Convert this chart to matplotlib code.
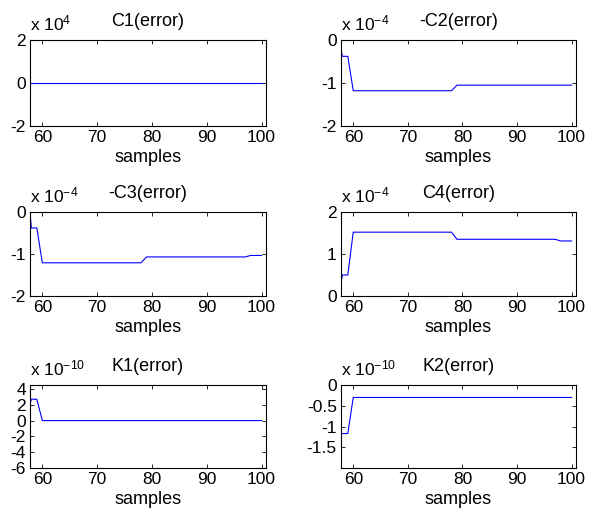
import matplotlib
matplotlib.use("Agg")
import matplotlib.pyplot as plt

# =========================================================
# DONNEES (points de rupture des courbes, echantillons entiers)
# =========================================================

c1_samples = [57, 100]
c1_values = [0.0, 0.0]                     # x 1e4

c2_samples = [57, 58, 59, 60, 78, 79, 100]
c2_values = [0.32, -0.38, -0.38, -1.18, -1.18, -1.05, -1.05]   # x 1e-4

c3_samples = [57, 58, 59, 60, 78, 79, 97, 98, 100]
c3_values = [1.14, -0.38, -0.38, -1.21, -1.21, -1.07, -1.07, -1.035, -1.035]

c4_samples = [57, 58, 59, 60, 78, 79, 97, 98, 100]
c4_values = [-0.33, 0.5, 0.5, 1.52, 1.52, 1.35, 1.35, 1.31, 1.31]

k1_samples = [57, 58, 59, 60, 100]
k1_values = [0.2, 2.7, 2.7, 0.0, 0.0]      # x 1e-10

k2_samples = [57, 59, 60, 100]
k2_values = [-1.17, -1.17, -0.3, -0.3]     # x 1e-10

x_ticks = [60, 70, 80, 90, 100]

# =========================================================
# STYLE
# =========================================================

plt.rcParams["font.family"] = ["Liberation Sans", "DejaVu Sans"]
plt.rcParams["mathtext.default"] = "regular"
plt.rcParams["axes.unicode_minus"] = False
plt.rcParams["font.size"] = 12

panels = [
    # titre, exposant, x, y, ylim, yticks, yticklabels, position
    ("C1(error)", "4", c1_samples, c1_values, (-2, 2), [-2, 0, 2], None,
     [0.0503, 0.7577, 0.396, 0.1654]),
    ("-C2(error)", "-4", c2_samples, c2_values, (-2, 0), [-2, -1, 0], None,
     [0.5721, 0.7577, 0.3943, 0.1654]),
    ("-C3(error)", "-4", c3_samples, c3_values, (-2, 0), [-2, -1, 0], None,
     [0.0503, 0.4308, 0.396, 0.1615]),
    ("C4(error)", "-4", c4_samples, c4_values, (0, 2), [0, 1, 2], None,
     [0.5721, 0.4308, 0.3943, 0.1615]),
    ("K1(error)", "-10", k1_samples, k1_values, (-6, 4.5), [-6, -4, -2, 0, 2, 4], None,
     [0.0503, 0.1, 0.396, 0.1596]),
    ("K2(error)", "-10", k2_samples, k2_values, (-2, 0), [-1.5, -1, -0.5, 0],
     ["-1.5", "-1", "-0.5", "0"],
     [0.5721, 0.1, 0.3943, 0.1596]),
]

fig = plt.figure(figsize=(5.96, 5.2), dpi=100)

for title, expo, xs, ys, ylim, yticks, ylabels, pos in panels:
    ax = fig.add_axes(pos)
    ax.plot(xs, ys, color="#0000ff", linewidth=0.8)
    ax.set_xlim(57.75, 100.8)
    ax.set_ylim(*ylim)
    ax.set_xticks(x_ticks)
    ax.set_yticks(yticks)
    if ylabels is not None:
        ax.set_yticklabels(ylabels)
    ax.tick_params(direction="in", top=True, right=True, length=3,
                   width=0.6, pad=3, labelsize=12.5)
    for sp in ax.spines.values():
        sp.set_linewidth(0.8)
    ax.set_title(title, fontsize=13, pad=10)
    ax.set_xlabel("samples", fontsize=13, labelpad=3)
    ax.annotate("x 10$^{%s}$" % expo, xy=(0, 1), xycoords="axes fraction",
                xytext=(0, 7), textcoords="offset points",
                ha="left", va="baseline", fontsize=12.5)

fig.savefig("out.png", dpi=100, facecolor="white")
